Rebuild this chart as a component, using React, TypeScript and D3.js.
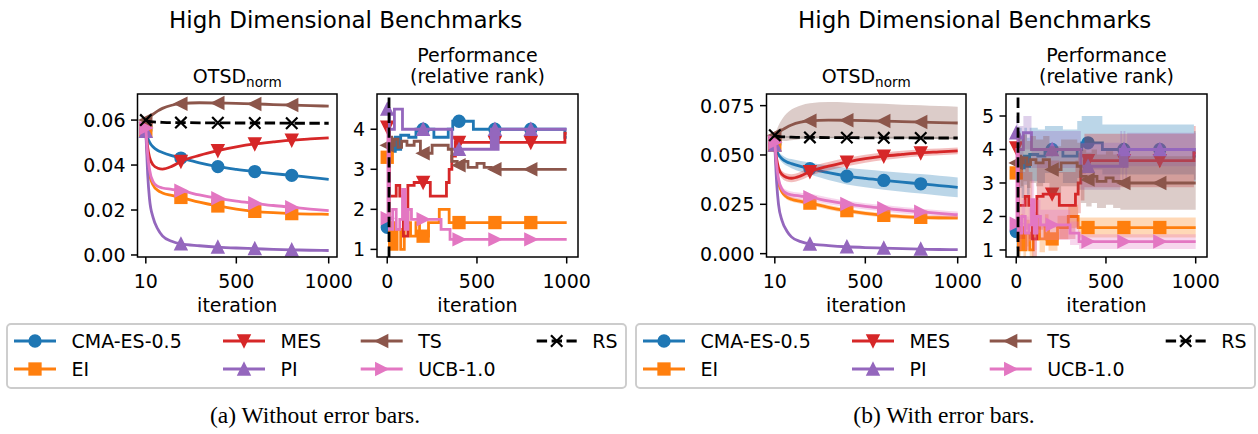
import React from 'react';
import * as d3 from 'd3';

// ---------------- data ----------------
const seriesNames = ['CMA-ES-0.5', 'EI', 'MES', 'PI', 'TS', 'UCB-1.0', 'RS'];
const seriesColors = ['#1f77b4', '#ff7f0e', '#d62728', '#9467bd', '#8c564b', '#e377c2', '#000000'];
const seriesMarkers = ['o', 's', 'v', '^', '<', '>', 'x'];

const otsdIter = [10, 20, 30, 50, 75, 100, 150, 200, 300, 400, 500, 600, 700, 800, 900, 1000];
const otsdMarkIter = [10, 200, 400, 600, 800];

const otsdCMA = [0.0555, 0.0522, 0.0502, 0.048, 0.0465, 0.0456, 0.0442, 0.0431, 0.041, 0.0393, 0.0381, 0.0371, 0.0362, 0.0354, 0.0345, 0.0336];
const otsdCMAStd = [0.0008, 0.0012, 0.0015, 0.0018, 0.002, 0.0023, 0.0027, 0.003, 0.0037, 0.0042, 0.0045, 0.0047, 0.0048, 0.0049, 0.005, 0.005];
const otsdEI = [0.055, 0.043, 0.036, 0.031, 0.0287, 0.0276, 0.0265, 0.0256, 0.0235, 0.0218, 0.0204, 0.0194, 0.0188, 0.0184, 0.0182, 0.0181];
const otsdEIStd = [0.0006, 0.001, 0.0011, 0.0012, 0.0012, 0.0012, 0.0012, 0.0012, 0.0012, 0.0011, 0.0011, 0.0011, 0.0011, 0.0011, 0.0011, 0.0011];
const otsdMES = [0.056, 0.048, 0.0435, 0.04, 0.0386, 0.0382, 0.0394, 0.0416, 0.0443, 0.0464, 0.0481, 0.0494, 0.0503, 0.0511, 0.0516, 0.0521];
const otsdMESStd = [0.0008, 0.0014, 0.0017, 0.0019, 0.002, 0.002, 0.0021, 0.0022, 0.0022, 0.0021, 0.002, 0.0019, 0.0018, 0.0018, 0.0017, 0.0017];
const otsdPI = [0.055, 0.036, 0.025, 0.0165, 0.0115, 0.0085, 0.0061, 0.0049, 0.0041, 0.0035, 0.0031, 0.0028, 0.0025, 0.0023, 0.0021, 0.002];
const otsdPIStd = [0.0008, 0.0015, 0.0012, 0.001, 0.0008, 0.0006, 0.0005, 0.0004, 0.0004, 0.0003, 0.0003, 0.0003, 0.0003, 0.0003, 0.0003, 0.0003];
const otsdTS = [0.06, 0.0607, 0.0614, 0.0627, 0.0641, 0.0652, 0.0666, 0.0673, 0.0677, 0.0676, 0.0674, 0.0672, 0.0669, 0.0667, 0.0664, 0.0662];
const otsdTSStd = [0.0005, 0.002, 0.0035, 0.0055, 0.007, 0.0078, 0.0085, 0.0089, 0.0091, 0.009, 0.0088, 0.0087, 0.0086, 0.0085, 0.0084, 0.0083];
const otsdUCB = [0.0565, 0.045, 0.038, 0.0325, 0.0305, 0.0298, 0.0292, 0.0286, 0.0267, 0.0252, 0.024, 0.023, 0.022, 0.0212, 0.0204, 0.0197];
const otsdUCBStd = [0.0008, 0.0014, 0.0016, 0.0017, 0.0017, 0.0017, 0.0017, 0.0017, 0.0017, 0.0016, 0.0016, 0.0016, 0.0016, 0.0016, 0.0016, 0.0016];
const otsdRS = [0.06, 0.0596, 0.0594, 0.0592, 0.0591, 0.059, 0.0589, 0.0589, 0.0588, 0.0588, 0.0587, 0.0587, 0.0587, 0.0586, 0.0586, 0.0586];
const otsdRSStd = [0.0004, 0.0005, 0.0005, 0.0005, 0.0005, 0.0005, 0.0005, 0.0005, 0.0005, 0.0005, 0.0005, 0.0005, 0.0005, 0.0005, 0.0005, 0.0005];

// rank steps: [iteration, mean rank, std]
const rankMarkIter = [0, 200, 400, 600, 800];
const rankCMA: number[][] = [
  [0, 1.55, 0.5], [12, 3.75, 0.9], [30, 3.45, 0.9], [45, 3.8, 0.85], [60, 3.5, 0.85], [75, 3.85, 0.8],
  [120, 3.8, 0.8], [160, 4.0, 0.7], [260, 3.8, 0.8], [340, 4.0, 0.85], [365, 4.2, 0.8], [480, 4.0, 0.75],
  [990, 3.8, 0.75], [1000, 3.8, 0.75],
];
const rankEI: number[][] = [
  [0, 3.3, 0.4], [12, 1.0, 0.3], [25, 1.67, 0.4], [40, 1.0, 0.3], [55, 1.5, 0.4], [75, 1.0, 0.3],
  [95, 1.67, 0.4], [130, 1.33, 0.4], [160, 1.67, 0.4], [180, 1.33, 0.35], [230, 1.67, 0.35], [290, 2.0, 0.35],
  [345, 1.67, 0.3], [1000, 1.67, 0.3],
];
const rankMES: number[][] = [
  [0, 4.05, 0.6], [12, 2.33, 1.0], [50, 2.6, 1.0], [70, 2.33, 1.0], [90, 1.33, 0.8], [115, 2.6, 1.0],
  [150, 2.67, 1.0], [240, 2.33, 1.0], [330, 2.67, 1.0], [345, 3.0, 0.9], [360, 3.33, 0.85], [380, 3.67, 0.8],
  [990, 3.9, 0.8], [1000, 3.9, 0.8],
];
const rankPI: number[][] = [
  [0, 4.5, 0.5], [12, 4.0, 0.7], [40, 4.5, 0.5], [85, 4.0, 0.55], [360, 3.5, 0.7], [580, 4.0, 0.55],
  [590, 3.5, 0.6], [598, 4.0, 0.55], [608, 3.5, 0.6], [618, 4.0, 0.5], [1000, 4.0, 0.5],
];
const rankTS: number[][] = [
  [0, 3.6, 0.6], [12, 3.8, 0.7], [25, 3.6, 0.7], [40, 3.75, 0.7], [60, 3.55, 0.7], [80, 3.7, 0.7],
  [110, 3.6, 0.7], [150, 3.7, 0.7], [185, 3.4, 0.7], [250, 3.6, 0.7], [340, 3.5, 0.7], [360, 3.2, 0.8],
  [390, 3.1, 0.8], [420, 3.2, 0.8], [450, 3.05, 0.8], [500, 3.15, 0.8], [540, 3.05, 0.8], [580, 3.0, 0.8],
  [1000, 3.0, 0.8],
];
const rankUCB: number[][] = [
  [0, 1.78, 0.5], [4, 4.0, 0.6], [12, 1.5, 0.5], [30, 2.0, 0.5], [50, 1.5, 0.5], [70, 1.75, 0.5],
  [85, 2.5, 0.6], [100, 1.5, 0.5], [115, 2.0, 0.5], [135, 1.75, 0.45], [300, 1.5, 0.35], [350, 1.25, 0.22],
  [1000, 1.25, 0.22],
];

const otsdMeans = [otsdCMA, otsdEI, otsdMES, otsdPI, otsdTS, otsdUCB, otsdRS];
const otsdStds = [otsdCMAStd, otsdEIStd, otsdMESStd, otsdPIStd, otsdTSStd, otsdUCBStd, otsdRSStd];
const rankSeries = [rankCMA, rankEI, rankMES, rankPI, rankTS, rankUCB, null];

const otsdTicksA = [0, 0.02, 0.04, 0.06];
const otsdTicksB = [0, 0.025, 0.05, 0.075];
const rankTicksA = [1, 2, 3, 4];
const rankTicksB = [1, 2, 3, 4, 5];
const otsdXTicks = [10, 500, 1000];
const rankXTicks = [0, 500, 1000];
const initIter = 10;

// ---------------- layout ----------------
const FONT = 'DejaVu Sans, sans-serif';
const FS = 19;
const LW = 2.8;
const MS = 11.4;
const DASH = '10.4 4.5';
const TOP = 94;
const BOTTOM = 257;
const OTSD_X = [137.5, 337];
const RANK_X = [377, 578];
const SHIFT = 629;

function Marker({ shape, x, y, color }: { shape: string; x: number; y: number; color: string }) {
  const h = MS / 2;
  if (shape === 'o') return <circle cx={x} cy={y} r={h} fill={color} stroke={color} strokeWidth={1.9} />;
  if (shape === 's') return <rect x={x - h} y={y - h} width={MS} height={MS} fill={color} stroke={color} strokeWidth={1.9} />;
  if (shape === 'x')
    return (
      <path d={`M${x - h},${y - h}L${x + h},${y + h}M${x - h},${y + h}L${x + h},${y - h}`} stroke={color} strokeWidth={2.2} fill="none" />
    );
  let d = '';
  if (shape === 'v') d = `M${x - h},${y - h}L${x + h},${y - h}L${x},${y + h}Z`;
  if (shape === '^') d = `M${x},${y - h}L${x + h},${y + h}L${x - h},${y + h}Z`;
  if (shape === '<') d = `M${x - h},${y}L${x + h},${y - h}L${x + h},${y + h}Z`;
  if (shape === '>') d = `M${x + h},${y}L${x - h},${y - h}L${x - h},${y + h}Z`;
  return <path d={d} fill={color} stroke={color} strokeWidth={1.9} strokeLinejoin="miter" />;
}

function stepValue(steps: number[][], it: number) {
  let v = steps[0][1];
  for (const s of steps) if (s[0] <= it) v = s[1];
  return v;
}

function Frame({ x0, x1, xs, ys, xTicks, yTicks, yFmt }: any) {
  return (
    <g fontFamily={FONT} fontSize={FS} fill="#000">
      {yTicks.map((t: number) => (
        <g key={'y' + t}>
          <line x1={x0 - 6.5} x2={x0} y1={ys(t)} y2={ys(t)} stroke="#000" strokeWidth={1.5} />
          <text x={x0 - 12} y={ys(t) + 6.9} textAnchor="end">{yFmt(t)}</text>
        </g>
      ))}
      {xTicks.map((t: number) => (
        <g key={'x' + t}>
          <line x1={xs(t)} x2={xs(t)} y1={BOTTOM} y2={BOTTOM + 6.5} stroke="#000" strokeWidth={1.5} />
          <text x={xs(t)} y={288} textAnchor="middle">{t}</text>
        </g>
      ))}
      <rect x={x0} y={TOP} width={x1 - x0} height={BOTTOM - TOP} fill="none" stroke="#000" strokeWidth={1.5} />
      <text x={(x0 + x1) / 2} y={312} textAnchor="middle">iteration</text>
    </g>
  );
}

function Panel({ ox, bands, otsdDomain, otsdTicks, otsdFmt, rankDomain, rankTicks, caption, id }: any) {
  const ox0 = OTSD_X[0] + ox, ox1 = OTSD_X[1] + ox;
  const rx0 = RANK_X[0] + ox, rx1 = RANK_X[1] + ox;
  const xO = d3.scaleLinear().domain([-35, 1045]).range([ox0, ox1]);
  const yO = d3.scaleLinear().domain(otsdDomain).range([BOTTOM, TOP]);
  const xR = d3.scaleLinear().domain([-57, 1063]).range([rx0, rx1]);
  const yR = d3.scaleLinear().domain(rankDomain).range([BOTTOM, TOP]);

  const lineO = d3.line<number>().x((_, i) => xO(otsdIter[i])).y((d) => yO(d)).curve(d3.curveMonotoneX);
  const areaO = (m: number[], s: number[]) =>
    d3.area<number>().x((_, i) => xO(otsdIter[i])).y0((d, i) => yO(d - s[i])).y1((d, i) => yO(d + s[i])).curve(d3.curveMonotoneX)(m);
  const lineR = d3.line<number[]>().x((d) => xR(d[0])).y((d) => yR(d[1])).curve(d3.curveStepAfter);
  const areaR = d3.area<number[]>().x((d) => xR(d[0])).y0((d) => yR(d[1] - d[2])).y1((d) => yR(d[1] + d[2])).curve(d3.curveStepAfter);

  const legendCols = [14, 223, 360.7, 536.7];
  const legendRows = [341, 369];

  return (
    <g>
      <defs>
        <clipPath id={id + 'co'}><rect x={ox0} y={TOP} width={ox1 - ox0} height={BOTTOM - TOP} /></clipPath>
        <clipPath id={id + 'cr'}><rect x={rx0} y={TOP} width={rx1 - rx0} height={BOTTOM - TOP} /></clipPath>
      </defs>
      <text x={345.7 + ox} y={28} textAnchor="middle" fontFamily={FONT} fontSize={23}>High Dimensional Benchmarks</text>
      <text x={(ox0 + ox1) / 2} y={83} textAnchor="middle" fontFamily={FONT} fontSize={FS}>
        <tspan>OTSD</tspan>
        <tspan fontSize={13.6} dy={4}>norm</tspan>
      </text>
      <text x={(rx0 + rx1) / 2} y={61.5} textAnchor="middle" fontFamily={FONT} fontSize={FS}>Performance</text>
      <text x={(rx0 + rx1) / 2} y={82.5} textAnchor="middle" fontFamily={FONT} fontSize={FS}>(relative rank)</text>

      {/* OTSD plot */}
      <g clipPath={`url(#${id}co)`}>
        {seriesNames.map((n, k) => (
          <g key={n}>
            {bands && <path d={areaO(otsdMeans[k], otsdStds[k]) || ''} fill={seriesColors[k]} fillOpacity={k === 6 ? 0.2 : 0.3} stroke="none" />}
            <path d={lineO(otsdMeans[k]) || ''} fill="none" stroke={seriesColors[k]} strokeWidth={LW} strokeDasharray={k === 6 ? DASH : undefined} />
            {otsdMarkIter.map((it) => {
              const i = otsdIter.indexOf(it);
              return <Marker key={it} shape={seriesMarkers[k]} x={xO(it)} y={yO(otsdMeans[k][i])} color={seriesColors[k]} />;
            })}
          </g>
        ))}
      </g>
      <Frame x0={ox0} x1={ox1} xs={xO} ys={yO} xTicks={otsdXTicks} yTicks={otsdTicks} yFmt={otsdFmt} />

      {/* rank plot */}
      <g clipPath={`url(#${id}cr)`}>
        {rankSeries.map((r, k) =>
          r ? (
            <g key={k}>
              {bands && <path d={areaR(r) || ''} fill={seriesColors[k]} fillOpacity={0.3} stroke="none" />}
              <path d={lineR(r) || ''} fill="none" stroke={seriesColors[k]} strokeWidth={LW} strokeLinejoin="miter" />
              {rankMarkIter.map((it) => (
                <Marker key={it} shape={seriesMarkers[k]} x={xR(it)} y={yR(stepValue(r, it))} color={seriesColors[k]} />
              ))}
            </g>
          ) : null
        )}
        <line x1={xR(initIter)} x2={xR(initIter)} y1={BOTTOM} y2={TOP} stroke="#000" strokeWidth={LW} strokeDasharray={DASH} />
      </g>
      <Frame x0={rx0} x1={rx1} xs={xR} ys={yR} xTicks={rankXTicks} yTicks={rankTicks} yFmt={(t: number) => String(t)} />

      {/* legend */}
      <rect x={7 + ox} y={324} width={619} height={64} rx={4} fill="#fff" fillOpacity={0.8} stroke="#cccccc" strokeWidth={1.9} />
      {seriesNames.map((n, k) => {
        const col = Math.floor(k / 2);
        const row = k % 2;
        const hx = legendCols[col] + ox;
        const hy = legendRows[row];
        const hw = k === 6 ? 40 : 42;
        return (
          <g key={n}>
            <line x1={hx} x2={hx + hw} y1={hy} y2={hy} stroke={seriesColors[k]} strokeWidth={LW} strokeDasharray={k === 6 ? DASH : undefined} />
            <Marker shape={seriesMarkers[k]} x={hx + hw / 2} y={hy} color={seriesColors[k]} />
            <text x={hx + hw + 15.5} y={hy + 7} fontFamily={FONT} fontSize={FS}>{n}</text>
          </g>
        );
      })}
      <text x={315 + ox} y={423} textAnchor="middle" fontFamily="Liberation Serif, Times New Roman, serif" fontSize={23.5}>{caption}</text>
    </g>
  );
}

export default function App() {
  return (
    <svg width={1258} height={434} style={{ position: 'absolute', left: 0, top: 0, background: '#fff' }}>
      <rect x={0} y={0} width={1258} height={434} fill="#fff" />
      <Panel
        id="pa"
        ox={0}
        bands={false}
        otsdDomain={[-0.0009, 0.0716]}
        otsdTicks={otsdTicksA}
        otsdFmt={(t: number) => t.toFixed(2)}
        rankDomain={[0.81, 4.88]}
        rankTicks={rankTicksA}
        caption="(a) Without error bars."
      />
      <Panel
        id="pb"
        ox={SHIFT}
        bands={true}
        otsdDomain={[-0.0017, 0.0809]}
        otsdTicks={otsdTicksB}
        otsdFmt={(t: number) => t.toFixed(3)}
        rankDomain={[0.79, 5.657]}
        rankTicks={rankTicksB}
        caption="(b) With error bars."
      />
    </svg>
  );
}
